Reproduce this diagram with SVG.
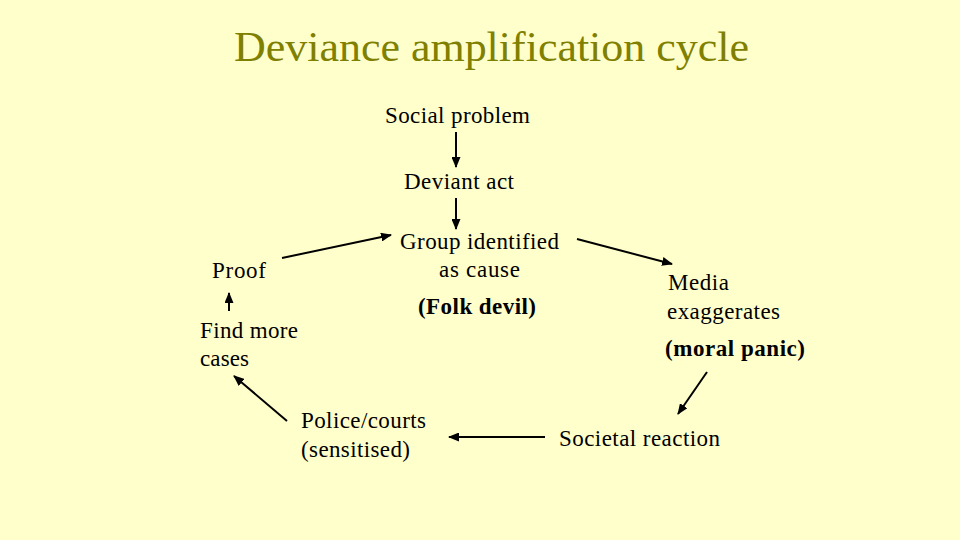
<svg xmlns="http://www.w3.org/2000/svg" width="960" height="540" viewBox="0 0 960 540">
<style>
text{font-family:"Liberation Serif","Times New Roman",serif;font-size:23px;fill:#000}
.title{font-size:43px;fill:#808000}
.b{font-weight:bold}
.c line{stroke:#000;stroke-width:2;marker-end:url(#ah)}
</style>
<defs>
<marker id="ah" markerUnits="userSpaceOnUse" markerWidth="11" markerHeight="9" refX="10" refY="4.5" orient="auto">
<path d="M0,0 L11,4.5 L0,9 z" fill="#000"/>
</marker>
</defs>
<rect width="960" height="540" fill="#FFFFCC"/>
<text class="title" x="234" y="61" textLength="515" lengthAdjust="spacingAndGlyphs">Deviance amplification cycle</text>
<g id="social-problem"><text x="385" y="123" textLength="145" lengthAdjust="spacing">Social problem</text></g>
<g id="deviant-act"><text x="404" y="189" textLength="110" lengthAdjust="spacing">Deviant act</text></g>
<g id="group-identified">
<text x="400" y="249" textLength="159" lengthAdjust="spacing">Group identified</text>
<text x="439" y="277" textLength="81" lengthAdjust="spacing">as cause</text>
<text class="b" x="418" y="314" textLength="118" lengthAdjust="spacing">(Folk devil)</text>
</g>
<g id="media">
<text x="668" y="290" textLength="61" lengthAdjust="spacing">Media</text>
<text x="667" y="319" textLength="113" lengthAdjust="spacing">exaggerates</text>
<text class="b" x="665" y="356" textLength="140" lengthAdjust="spacing">(moral panic)</text>
</g>
<g id="societal-reaction"><text x="559" y="446" textLength="161" lengthAdjust="spacing">Societal reaction</text></g>
<g id="police-courts">
<text x="301" y="428" textLength="125" lengthAdjust="spacing">Police/courts</text>
<text x="301" y="457" textLength="109" lengthAdjust="spacing">(sensitised)</text>
</g>
<g id="find-more-cases">
<text x="200" y="338" textLength="98" lengthAdjust="spacing">Find more</text>
<text x="200" y="366" textLength="49" lengthAdjust="spacing">cases</text>
</g>
<g id="proof"><text x="212" y="278" textLength="54" lengthAdjust="spacing">Proof</text></g>
<g id="connectors" class="c">
<line x1="456" y1="132" x2="456" y2="167"/>
<line x1="456" y1="198" x2="456" y2="229"/>
<line x1="577" y1="239" x2="672" y2="264"/>
<line x1="707" y1="372" x2="678" y2="414"/>
<line x1="545" y1="437" x2="449" y2="437"/>
<line x1="287" y1="421" x2="234" y2="376"/>
<line x1="229" y1="311" x2="229" y2="293"/>
<line x1="282" y1="258" x2="391" y2="235"/>
</g>
</svg>
